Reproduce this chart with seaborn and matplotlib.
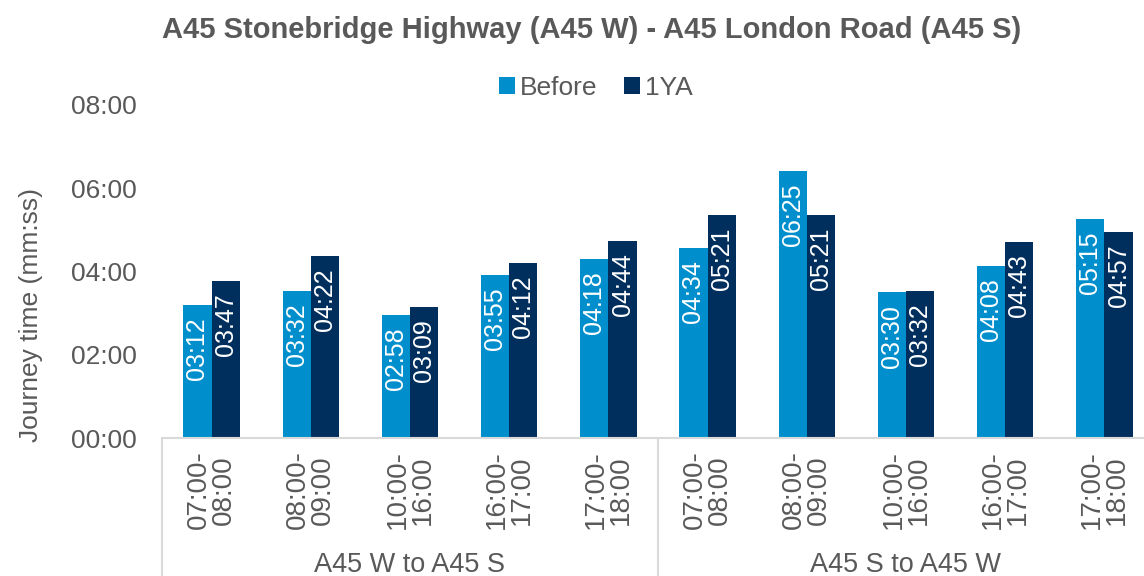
import numpy as np
import pandas as pd
import matplotlib
matplotlib.use("Agg")
import matplotlib.pyplot as plt
from matplotlib.ticker import FuncFormatter
import seaborn as sns

# journey times in seconds
groups = ["A45 W to A45 S", "A45 S to A45 W"]
time_slots = ["07:00-\n08:00", "08:00-\n09:00", "10:00-\n16:00", "16:00-\n17:00", "17:00-\n18:00"]
periods = ["Before", "1YA"]
before = [192, 212, 178, 235, 258, 274, 385, 210, 248, 315]
one_year_after = [227, 262, 189, 252, 284, 321, 321, 212, 283, 297]

blue = "#008FCC"
navy = "#002F5E"
grey = "#595959"

sns.set_theme(style="white")
plt.rcParams["font.family"] = ["Liberation Sans", "DejaVu Sans"]


def mmss(v, pos=None):
    v = int(round(v))
    return "{:02d}:{:02d}".format(v // 60, v % 60)


slots = [g + "|" + t for g in groups for t in time_slots]
df = pd.DataFrame({
    "slot": slots * 2,
    "period": [periods[0]] * len(slots) + [periods[1]] * len(slots),
    "secs": before + one_year_after,
})

fig = plt.figure(figsize=(11.44, 5.76), dpi=100)
ax = fig.add_axes([162 / 1144, 1 - 438 / 576, 992 / 1144, 333 / 576])

sns.barplot(data=df, x="slot", y="secs", hue="period", order=slots,
            hue_order=periods, palette=[blue, navy], saturation=1,
            width=0.57, gap=0, legend=False, ax=ax, edgecolor="none")

ax.set_ylim(0, 480)
ax.set_xlim(-0.5, len(slots) - 0.5)
ax.set_yticks([0, 120, 240, 360, 480])
ax.yaxis.set_major_formatter(FuncFormatter(mmss))
ax.tick_params(axis="y", labelsize=19, labelcolor=grey, pad=18, length=0)
ax.set_xticks(range(len(slots)))
ax.set_xticklabels([t for g in groups for t in time_slots], rotation=90,
                   fontsize=20, color=grey, va="top", ha="center",
                   linespacing=0.95)
ax.tick_params(axis="x", length=0, pad=9)
ax.set_xlabel("")
ax.set_ylabel("Journey time (mm:ss)", fontsize=19, color=grey)
ax.yaxis.set_label_coords(-0.12, 0.37)

for s in ["top", "right", "left"]:
    ax.spines[s].set_visible(False)
ax.spines["bottom"].set_color("#D9D9D9")
ax.spines["bottom"].set_linewidth(1.5)

# group separators and group names
trans = ax.get_xaxis_transform()
for b in [-0.5, 4.5, 9.5]:
    ax.plot([b, b], [0, -0.42], transform=trans, color="#D9D9D9", lw=1.5,
            clip_on=False)
for i, g in enumerate(groups):
    ax.text(i * 5 + 2, -0.38, g, transform=trans, ha="center", va="center",
            fontsize=19.5, color=grey)

# value labels inside bar tops
for cont in ax.containers:
    for p in cont.patches:
        h = p.get_height()
        ax.annotate(mmss(h), (p.get_x() + p.get_width() / 2, h),
                    xytext=(0, -9), textcoords="offset points",
                    rotation=90, ha="center", va="top", color="white",
                    fontsize=18)

ax.legend(ax.containers, periods, loc="center", bbox_to_anchor=(596 / 1144, 1 - 88 / 576),
          bbox_transform=fig.transFigure, ncol=2, frameon=False, fontsize=19,
          handlelength=0.6, handleheight=0.6, handletextpad=0.2, columnspacing=1.0,
          labelcolor=grey)

fig.text(592 / 1144, 1 - 30 / 576,
         "A45 Stonebridge Highway (A45 W) - A45 London Road (A45 S)",
         ha="center", va="center", fontsize=21, fontweight="bold", color=grey)

fig.savefig("out.png", dpi=100)
